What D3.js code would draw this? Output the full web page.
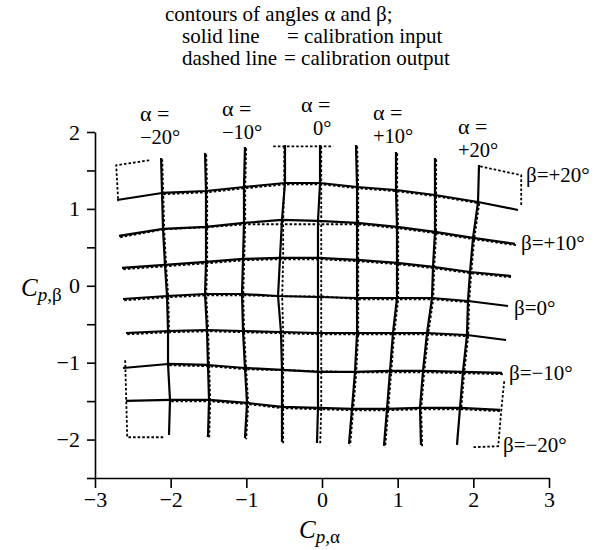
<!DOCTYPE html>
<html><head><meta charset="utf-8">
<script src="https://cdn.jsdelivr.net/npm/d3@7"></script>
<style>
body{margin:0;background:#fff}
text{font-family:"Liberation Serif","Times New Roman",serif;fill:#000}
</style>
</head><body>
<svg id="c" width="595" height="550"></svg>
<script>
// ---------------- data ----------------
const xTicks = [-3,-2,-1,0,1,2,3];
const yTicksMajor = [-2,-1,0,1,2];
const yTicksAll = [-2.5,-2,-1.5,-1,-0.5,0,0.5,1,1.5,2];
const alphaNames = ["−20°","−10°","0°","+10°","+20°"];
const betaNames = ["β=+20°","β=+10°","β=0°","β=−10°","β=−20°"];

// calibration input: β-contours (left end, 9 α-crossings, right end)
const inputRowsX = [
 [-2.709,-2.114,-1.533,-1.031,-0.489,-0.026,0.463,0.978,1.493,2.062,2.590],
 [-2.683,-2.101,-1.533,-1.031,-0.529,-0.053,0.463,0.991,1.493,1.996,2.551],
 [-2.643,-2.075,-1.533,-1.044,-0.555,-0.053,0.463,0.991,1.467,1.956,2.498],
 [-2.630,-2.048,-1.546,-1.057,-0.581,-0.053,0.463,0.991,1.454,1.929,2.458],
 [-2.590,-2.035,-1.520,-1.044,-0.542,-0.053,0.463,0.938,1.388,1.916,2.432],
 [-2.630,-2.035,-1.507,-1.018,-0.529,-0.053,0.436,0.899,1.335,1.863,2.379],
 [-2.590,-2.009,-1.493,-0.991,-0.529,-0.053,0.396,0.859,1.295,1.824,2.352]
];
const inputRowsY = [
 [1.116,1.207,1.233,1.285,1.337,1.337,1.285,1.246,1.181,1.090,0.986],
 [0.648,0.739,0.765,0.817,0.856,0.843,0.817,0.765,0.700,0.622,0.544],
 [0.232,0.271,0.310,0.349,0.362,0.362,0.336,0.297,0.245,0.179,0.127],
 [-0.172,-0.133,-0.107,-0.107,-0.133,-0.146,-0.159,-0.159,-0.159,-0.198,-0.263],
 [-0.614,-0.588,-0.575,-0.588,-0.601,-0.614,-0.614,-0.614,-0.614,-0.640,-0.705],
 [-1.069,-1.017,-1.030,-1.069,-1.095,-1.121,-1.121,-1.108,-1.108,-1.121,-1.134],
 [-1.498,-1.485,-1.485,-1.524,-1.576,-1.589,-1.602,-1.602,-1.589,-1.589,-1.615]
];
// calibration input: α-contour ends (top / bottom)
const colTopX = [-2.127,-1.546,-1.018,-0.489,-0.026,0.449,0.978,1.493,2.075];
const colTopY = [1.662,1.727,1.805,1.831,1.831,1.831,1.740,1.662,1.571];
const colBotX = [-2.022,-1.507,-1.018,-0.529,-0.066,0.357,0.819,1.308,1.784];
const colBotY = [-1.940,-1.966,-1.979,-2.031,-2.044,-2.057,-2.083,-2.070,-2.070];

// calibration output (dashed): β-contours
const outputRowsX = [
 [-2.114,-1.533,-1.031,-0.489,-0.026,0.463,0.978,1.493,2.062],
 [-2.683,-2.101,-1.533,-1.031,-0.529,-0.053,0.463,0.991,1.493,1.996,2.551],
 [-2.643,-2.075,-1.533,-1.044,-0.555,-0.053,0.463,0.991,1.467,1.956,2.498],
 [-2.630,-2.048,-1.546,-1.057,-0.515,-0.026,0.463,0.991,1.454,1.929],
 [-2.590,-2.035,-1.520,-1.044,-0.542,-0.053,0.463,0.938,1.388,1.916],
 [-2.035,-1.507,-1.018,-0.515,-0.026,0.436,0.899,1.335,1.863,2.379],
 [-2.009,-1.493,-0.991,-0.529,-0.053,0.396,0.859,1.295,1.824,2.352]
];
const outputRowsY = [
 [1.207,1.233,1.285,1.337,1.337,1.285,1.246,1.181,1.090],
 [0.648,0.752,0.778,0.817,0.817,0.817,0.817,0.765,0.700,0.622,0.544],
 [0.232,0.271,0.310,0.349,0.362,0.362,0.336,0.297,0.245,0.179,0.127],
 [-0.172,-0.133,-0.107,-0.107,-0.120,-0.120,-0.159,-0.159,-0.159,-0.198],
 [-0.614,-0.588,-0.575,-0.588,-0.601,-0.614,-0.614,-0.614,-0.614,-0.640],
 [-1.017,-1.030,-1.069,-1.082,-1.095,-1.108,-1.108,-1.108,-1.121,-1.134],
 [-1.485,-1.485,-1.524,-1.576,-1.589,-1.602,-1.602,-1.589,-1.589,-1.615]
];
// calibration output: α-contours at −5° and 0° (others follow the input)
const outputAlphaM5X = [-0.515,-0.515,-0.529,-0.529,-0.542,-0.529,-0.529,-0.529,-0.529];
const outputAlpha0X  = [-0.026,-0.026,-0.026,-0.026,-0.026,-0.026,-0.026,-0.026,-0.040];
// calibration output: corner / edge pieces
const outputTopX = [-0.661,-0.489,-0.026,0.132];
const outputTopY = [1.831,1.831,1.831,1.831];
const outputTopLeftX = [-2.299,-2.736,-2.709];
const outputTopLeftY = [1.649,1.584,1.116];
const outputTopRightX = [2.075,2.617,2.617];
const outputTopRightY = [1.571,1.454,1.064];
const outputBotLeftX = [-2.617,-2.590,-2.114];
const outputBotLeftY = [-0.952,-1.953,-1.953];
const outputBotRightX = [2.392,2.352,2.313,1.969];
const outputBotRightY = [-1.225,-1.615,-2.070,-2.083];

// ---------------- drawing ----------------
const svg = d3.select("#c");
const x = d3.scaleLinear().domain([-3,3]).range([95,549]);
const y = d3.scaleLinear().domain([-2.5,2]).range([478,132]);
const fmt = d => d < 0 ? "−" + Math.abs(d) : String(d);
const line = d3.line().x(d => x(d[0])).y(d => y(d[1]));
const zip = (a,b) => a.map((v,i)=>[v,b[i]]);

// axes
const gx = svg.append("g").attr("transform","translate(0,478)")
  .call(d3.axisBottom(x).tickValues(xTicks).tickSize(10).tickSizeOuter(0).tickPadding(3).tickFormat(fmt));
const gy = svg.append("g").attr("transform","translate(95,0)")
  .call(d3.axisLeft(y).tickValues(yTicksAll).tickSize(8).tickSizeOuter(0).tickPadding(7)
    .tickFormat(d => yTicksMajor.includes(d) ? fmt(d) : ""));
[gx,gy].forEach(g=>{
  g.selectAll("path,line").attr("stroke","#000").attr("stroke-width",1.6);
  g.selectAll("text").style("font-family","'Liberation Serif',serif").style("font-size","22px").attr("fill","#000");
});

// solid input grid
const solid = svg.append("g").attr("fill","none").attr("stroke","#000").attr("stroke-width",2.2).attr("stroke-linejoin","round");
inputRowsX.forEach((r,i)=> solid.append("path").attr("d", line(zip(r, inputRowsY[i]))));
const inputCols = colTopX.map((tx,j)=>{
  const pts = [[tx,colTopY[j]]];
  inputRowsX.forEach((r,i)=> pts.push([r[j+1], inputRowsY[i][j+1]]));
  pts.push([colBotX[j], colBotY[j]]);
  return pts;
});
inputCols.forEach(c => solid.append("path").attr("d", line(c)));

// dashed output grid
const dashed = svg.append("g").attr("fill","none").attr("stroke","#000").attr("stroke-width",1.8)
  .attr("stroke-dasharray","2.6,2").attr("transform","translate(1.2,1.3)");
outputRowsX.forEach((r,i)=> dashed.append("path").attr("d", line(zip(r, outputRowsY[i]))));
const outputCols = inputCols.map((c,j)=>{
  let pts = c.map(p=>p.slice());
  if (j===3) pts = pts.map((p,k)=>[outputAlphaM5X[k], p[1]]);
  if (j===4) pts = pts.map((p,k)=>[outputAlpha0X[k], p[1]]);
  if (j===0) pts = pts.slice(0,6);
  if (j===8) pts = pts.slice(1,8);
  return pts;
});
outputCols.forEach(c => dashed.append("path").attr("d", line(c)));
[[outputTopX,outputTopY],[outputTopLeftX,outputTopLeftY],[outputTopRightX,outputTopRightY],
 [outputBotLeftX,outputBotLeftY],[outputBotRightX,outputBotRightY]]
 .forEach(([a,b]) => dashed.append("path").attr("d", line(zip(a,b))));

// α labels (two lines each, one text element)
const alphaLabelPos = [[140,121,144],[222,116,139],[301,112,135],[373,120,143],[458,134,157]];
alphaNames.forEach((n,i)=>{
  const [lx,b1,b2] = alphaLabelPos[i];
  const t = svg.append("text").attr("x",lx).attr("y",b1);
  t.append("tspan").attr("x",lx).attr("y",b1).style("font-size","22px").text("α =");
  t.append("tspan").attr("x", i===2 ? lx+12 : lx).attr("y",b2).style("font-size","20.5px").text(n);
});
// β labels
const betaLabelPos = [[526,182],[521,250],[514,315],[509,380],[503,452]];
betaNames.forEach((n,i)=>{
  svg.append("text").attr("x",betaLabelPos[i][0]).attr("y",betaLabelPos[i][1]).style("font-size","21px").text(n);
});

// title (single text element, three lines)
const title = svg.append("text").style("font-size","21px");
title.append("tspan").attr("x",165).attr("y",21).text("contours of angles α and β;");
title.append("tspan").attr("x",182).attr("y",43).text("solid line");
title.append("tspan").attr("x",287).attr("y",43).text("= calibration input");
title.append("tspan").attr("x",182).attr("y",65).text("dashed line");
title.append("tspan").attr("x",284).attr("y",65).text("= calibration output");

// axis titles
const xt = svg.append("text").attr("x",299).attr("y",538).style("font-size","25px");
xt.append("tspan").style("font-style","italic").text("C");
xt.append("tspan").attr("dy",5).style("font-size","19px").style("font-style","italic").text("p");
xt.append("tspan").style("font-size","19px").text(",α");
const yt = svg.append("text").attr("x",21).attr("y",296).style("font-size","25px");
yt.append("tspan").style("font-style","italic").text("C");
yt.append("tspan").attr("dy",5).style("font-size","19px").style("font-style","italic").text("p");
yt.append("tspan").style("font-size","19px").text(",β");
</script>
</body></html>
